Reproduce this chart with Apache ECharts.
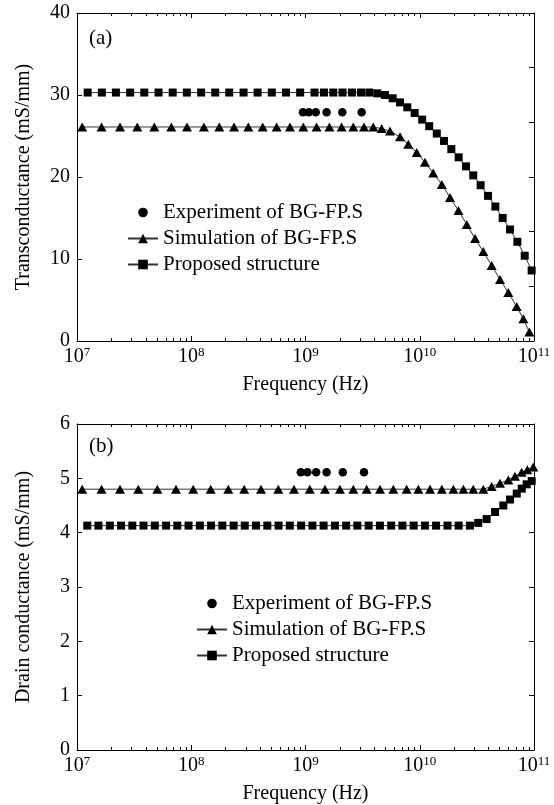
<!DOCTYPE html>
<html>
<head>
<meta charset="utf-8">
<script src="https://cdn.jsdelivr.net/npm/echarts@6/dist/echarts.min.js"></script>
<style>
html,body{margin:0;padding:0;background:#fff;}
#chart{width:554px;height:805px;}
</style>
</head>
<body>
<div id="chart"></div>
<script>
// ---------- data ----------
const seriesNames = ['Experiment of BG-FP.S', 'Simulation of BG-FP.S', 'Proposed structure'];
const decadeTicks = [1e7, 1e8, 1e9, 1e10, 1e11];
const minorMultipliers = [2, 3, 4, 5, 6, 7, 8, 9];

// (a) Transconductance
const expFreqA = [0.95e9, 1.07e9, 1.23e9, 1.53e9, 2.1e9, 3.1e9];
const expValA = [27.9, 27.9, 27.9, 27.9, 27.9, 27.9];
const simFreqA = [1.11e7,1.64e7,2.38e7,3.37e7,4.75e7,6.69e7,9.18e7,1.29e8,1.76e8,2.37e8,3.16e8,4.22e8,5.59e8,7.31e8,9.57e8,1.25e9,1.62e9,2.07e9,2.62e9,3.25e9,3.92e9,4.64e9,5.49e9,6.72e9,7.94e9,9.4e9,1.11e10,1.31e10,1.56e10,1.84e10,2.18e10,2.58e10,3.05e10,3.6e10,4.26e10,5.04e10,5.96e10,7.05e10,8.07e10,9.1e10];
const simValA = [26.1,26.1,26.1,26.1,26.1,26.1,26.1,26.1,26.1,26.1,26.1,26.1,26.1,26.1,26.1,26.1,26.1,26.1,26.1,26.1,26.1,25.9,25.6,24.9,24.0,23.0,21.8,20.5,19.1,17.5,15.9,14.2,12.5,10.9,9.2,7.5,5.9,4.2,2.7,1.1];
const propFreqA = [1.24e7,1.65e7,2.19e7,2.92e7,3.88e7,5.17e7,6.88e7,9.15e7,1.22e8,1.62e8,2.15e8,2.87e8,3.81e8,5.07e8,6.75e8,8.98e8,1.2e9,1.45e9,1.75e9,2.11e9,2.55e9,3.06e9,3.62e9,4.25e9,4.96e9,5.79e9,6.72e9,7.78e9,9.03e9,1.05e10,1.21e10,1.41e10,1.63e10,1.89e10,2.19e10,2.54e10,2.94e10,3.41e10,3.96e10,4.59e10,5.32e10,6.17e10,7.15e10,8.29e10,9.54e10];
const propValA = [30.3,30.3,30.3,30.3,30.3,30.3,30.3,30.3,30.3,30.3,30.3,30.3,30.3,30.3,30.3,30.3,30.3,30.3,30.3,30.3,30.3,30.3,30.3,30.2,30.0,29.6,29.1,28.5,27.8,27.0,26.2,25.3,24.4,23.4,22.4,21.3,20.2,19.0,17.7,16.4,15.0,13.6,12.1,10.4,8.6];

// (b) Drain conductance
const expFreqB = [0.91e9, 1.04e9, 1.24e9, 1.53e9, 2.12e9, 3.25e9];
const expValB = [5.11, 5.11, 5.11, 5.11, 5.11, 5.11];
const simFreqB = [1.11e7,1.64e7,2.38e7,3.44e7,5.05e7,7.35e7,1.04e8,1.48e8,2.11e8,2.91e8,4.08e8,5.78e8,7.93e8,1.09e9,1.48e9,2.0e9,2.62e9,3.43e9,4.49e9,5.87e9,7.68e9,9.72e9,1.23e10,1.56e10,1.97e10,2.41e10,2.94e10,3.6e10,4.26e10,5.04e10,5.96e10,6.82e10,7.8e10,8.74e10,9.86e10];
const simValB = [4.8,4.8,4.8,4.8,4.8,4.8,4.8,4.8,4.8,4.8,4.8,4.8,4.8,4.8,4.8,4.8,4.8,4.8,4.8,4.8,4.8,4.8,4.8,4.8,4.8,4.8,4.8,4.8,4.85,4.91,4.97,5.04,5.11,5.16,5.21];
const propFreqB = [1.23e7,1.54e7,1.94e7,2.43e7,3.05e7,3.82e7,4.80e7,6.02e7,7.55e7,9.47e7,1.19e8,1.49e8,1.87e8,2.35e8,2.94e8,3.69e8,4.63e8,5.81e8,7.29e8,9.15e8,1.15e9,1.44e9,1.81e9,2.27e9,2.84e9,3.57e9,4.48e9,5.62e9,7.05e9,8.84e9,1.11e10,1.39e10,1.75e10,2.19e10,2.75e10,3.25e10,3.85e10,4.56e10,5.39e10,6.17e10,7.06e10,7.81e10,8.63e10,9.55e10];
const propValB = [4.13,4.13,4.13,4.13,4.13,4.13,4.13,4.13,4.13,4.13,4.13,4.13,4.13,4.13,4.13,4.13,4.13,4.13,4.13,4.13,4.13,4.13,4.13,4.13,4.13,4.13,4.13,4.13,4.13,4.13,4.13,4.13,4.13,4.13,4.13,4.18,4.25,4.38,4.50,4.61,4.72,4.81,4.89,4.95];

const yTicksA = [0, 10, 20, 30, 40];
const yTicksB = [0, 1, 2, 3, 4, 5, 6];
const yNameA = 'Transconductance (mS/mm)';
const yNameB = 'Drain conductance (mS/mm)';
const xName = 'Frequency (Hz)';

// ---------- helpers ----------
const FONT = "'Liberation Serif', 'Times New Roman', serif";
const minorTicks = [];
for (let i = 0; i < decadeTicks.length - 1; i++) {
  for (const m of minorMultipliers) minorTicks.push(m * decadeTicks[i]);
}
const zip = (xs, ys) => xs.map((x, i) => [x, ys[i]]);

const grids = [
  { left: 77, top: 13, width: 457, height: 328 },
  { left: 77, top: 424, width: 457, height: 328 }
];

function xAxesFor(g) {
  const base = { type: 'log', logBase: 10, min: 1e7, max: 1e11, gridIndex: g, splitLine: { show: false } };
  const lineStyle = { color: '#000', width: 1 };
  return [
    Object.assign({}, base, {
      position: 'bottom',
      axisLine: { show: true, lineStyle },
      axisTick: { show: true, inside: true, length: 5, lineStyle, customValues: decadeTicks },
      axisLabel: {
        show: true, margin: 5, customValues: decadeTicks,
        formatter: v => '{b|10}{s|' + Math.round(Math.log10(v)) + '}',
        rich: {
          b: { fontSize: 20, fontFamily: FONT, color: '#000', lineHeight: 22 },
          s: { fontSize: 13, fontFamily: FONT, color: '#000', verticalAlign: 'top', lineHeight: 22, padding: [0, 0, 6, 0] }
        }
      },
      name: xName, nameLocation: 'middle', nameGap: 34,
      nameTextStyle: { fontSize: 20, fontFamily: FONT, color: '#000' }
    }),
    Object.assign({}, base, {
      position: 'bottom',
      axisLine: { show: false },
      axisTick: { show: true, inside: true, length: 3, lineStyle, customValues: minorTicks },
      axisLabel: { show: false }
    }),
    Object.assign({}, base, {
      position: 'top',
      axisLine: { show: true, lineStyle },
      axisTick: { show: true, inside: true, length: 5, lineStyle, customValues: decadeTicks },
      axisLabel: { show: false }
    }),
    Object.assign({}, base, {
      position: 'top',
      axisLine: { show: false },
      axisTick: { show: true, inside: true, length: 3, lineStyle, customValues: minorTicks },
      axisLabel: { show: false }
    })
  ];
}

function yAxesFor(g, ticks, name, gap) {
  const lineStyle = { color: '#000', width: 1 };
  return [
    {
      type: 'value', gridIndex: g, position: 'left',
      min: ticks[0], max: ticks[ticks.length - 1], interval: ticks[1] - ticks[0],
      axisLine: { show: true, lineStyle },
      axisTick: { show: true, inside: true, length: 5, lineStyle },
      axisLabel: { show: true, margin: 7, fontSize: 20, fontFamily: FONT, color: '#000' },
      splitLine: { show: false },
      name: name, nameLocation: 'middle', nameGap: gap,
      nameTextStyle: { fontSize: 20, fontFamily: FONT, color: '#000' }
    },
    {
      type: 'value', gridIndex: g, position: 'right',
      min: 0, max: 6, interval: 1,
      axisLine: { show: true, lineStyle },
      axisTick: { show: true, inside: true, length: 5, lineStyle },
      axisLabel: { show: false },
      splitLine: { show: false }
    }
  ];
}

function seriesFor(g, expF, expV, simF, simV, propF, propV) {
  const xi = g * 4, yi = g * 2;
  const common = { xAxisIndex: xi, yAxisIndex: yi, type: 'line', animation: false, silent: true,
    itemStyle: { color: '#000' } };
  return [
    Object.assign({}, common, {
      name: seriesNames[0], data: zip(expF, expV), symbol: 'circle', symbolSize: 8.5,
      lineStyle: { opacity: 0, width: 0 }, z: 3
    }),
    Object.assign({}, common, {
      name: seriesNames[1], data: zip(simF, simV), symbol: 'triangle', symbolSize: [10, 9],
      lineStyle: { color: '#333', width: 1 }, z: 2
    }),
    Object.assign({}, common, {
      name: seriesNames[2], data: zip(propF, propV), symbol: 'rect', symbolSize: 8,
      lineStyle: { color: '#333', width: 1 }, z: 2
    })
  ];
}

function legendAt(left, top) {
  return {
    left, top, orient: 'vertical', padding: 0,
    itemWidth: 30, itemHeight: 12, itemGap: 5, selectedMode: false,
    data: seriesNames,
    textStyle: { fontSize: 21, fontFamily: FONT, color: '#000', lineHeight: 20 }
  };
}

const option = {
  backgroundColor: '#fff',
  animation: false,
  title: [
    { text: '(a)', left: 89, top: 28, padding: 0, textStyle: { fontSize: 21, fontWeight: 'normal', fontFamily: FONT, color: '#000' } },
    { text: '(b)', left: 89, top: 436, padding: 0, textStyle: { fontSize: 21, fontWeight: 'normal', fontFamily: FONT, color: '#000' } }
  ],
  legend: [legendAt(127, 202), legendAt(196, 593)],
  grid: grids,
  xAxis: xAxesFor(0).concat(xAxesFor(1)),
  yAxis: yAxesFor(0, yTicksA, yNameA, 43).concat(yAxesFor(1, yTicksB, yNameB, 43)),
  series: seriesFor(0, expFreqA, expValA, simFreqA, simValA, propFreqA, propValA)
    .concat(seriesFor(1, expFreqB, expValB, simFreqB, simValB, propFreqB, propValB))
};

const chart = echarts.init(document.getElementById('chart'), null, { renderer: 'canvas' });
chart.setOption(option);
</script>
</body>
</html>
